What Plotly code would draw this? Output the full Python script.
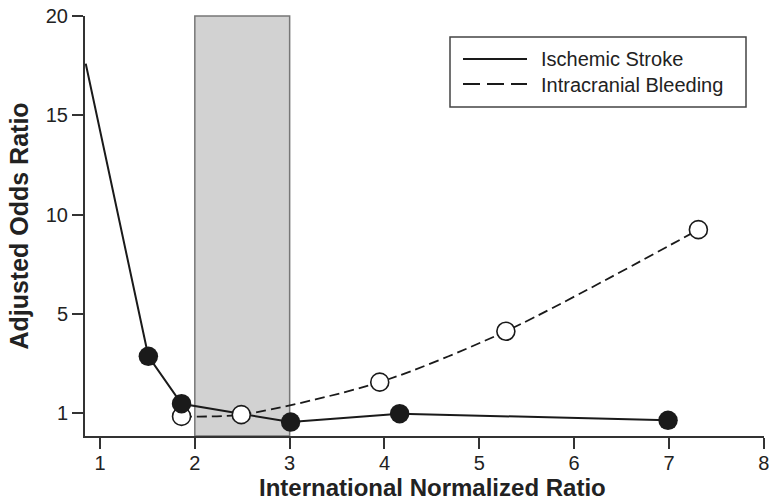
import plotly.graph_objects as go

# INR at which the adjusted odds ratios were estimated
ischemic_inr = [0.85, 1.51, 1.86, 3.01, 4.16, 6.99]
ischemic_or = [17.6, 3.29, 1.38, 0.64, 0.98, 0.71]

bleeding_inr = [1.86, 2.49, 3.95, 5.28, 7.31]
bleeding_or = [0.87, 0.94, 2.25, 4.30, 9.24]

# therapeutic INR window
target_range = [2.0, 3.0]

x_ticks = [1, 2, 3, 4, 5, 6, 7, 8]
y_ticks = [1, 5, 10, 15, 20]


def to_axis(v):
    """Odds-ratio scale: 1..5 stretched so that 1 sits at the axis origin."""
    return v if v >= 5 else (v - 1) * 1.25


FONT = "Liberation Sans, Arial, Helvetica, sans-serif"
INK = "#1a1a1a"
TEXT = "#222222"

# plot area in pixels
W, H = 769, 503
L, R, T, B = 85, 5, 16, 67


def px_x(p):
    return (p - L) / (W - L - R)


def px_y(p):
    return (H - B - p) / (H - T - B)


fig = go.Figure()

# dashed bleeding curve (drawn underneath)
fig.add_trace(go.Scatter(
    x=bleeding_inr, y=[to_axis(v) for v in bleeding_or],
    mode="lines", line=dict(color=INK, width=1.8, dash="10px,5px", shape="spline", smoothing=0.8),
    showlegend=False, hoverinfo="skip"))

# solid ischemic stroke line
fig.add_trace(go.Scatter(
    x=ischemic_inr, y=[to_axis(v) for v in ischemic_or],
    mode="lines", line=dict(color=INK, width=2),
    showlegend=False, hoverinfo="skip"))

# open markers for bleeding
fig.add_trace(go.Scatter(
    x=bleeding_inr, y=[to_axis(v) for v in bleeding_or],
    mode="markers",
    marker=dict(size=18, color="white", line=dict(color=INK, width=1.6)),
    showlegend=False))

# filled markers for ischemic stroke (first point is the curve start only)
fig.add_trace(go.Scatter(
    x=ischemic_inr[1:], y=[to_axis(v) for v in ischemic_or[1:]],
    mode="markers",
    marker=dict(size=19.5, color=INK, line=dict(width=0)),
    showlegend=False))

# shaded target range
fig.add_shape(type="rect", xref="x", yref="paper",
              x0=target_range[0], x1=target_range[1], y0=0, y1=1,
              fillcolor="#d2d2d2", line=dict(color="#777777", width=1.5), layer="below")

# legend box
fig.add_shape(type="rect", xref="paper", yref="paper",
              x0=px_x(450), x1=px_x(746), y0=px_y(107), y1=px_y(37),
              fillcolor="white", line=dict(color="#444444", width=1.5))
fig.add_shape(type="line", xref="paper", yref="paper",
              x0=px_x(463), x1=px_x(527), y0=px_y(59), y1=px_y(59),
              line=dict(color=INK, width=1.8))
fig.add_shape(type="line", xref="paper", yref="paper",
              x0=px_x(463), x1=px_x(527), y0=px_y(84), y1=px_y(84),
              line=dict(color=INK, width=1.8, dash="17px,7px"))
for label, yy in [("Ischemic Stroke", 59), ("Intracranial Bleeding", 85)]:
    fig.add_annotation(text=label, xref="paper", yref="paper",
                       x=px_x(539), y=px_y(yy), xanchor="left", yanchor="middle",
                       showarrow=False, font=dict(family=FONT, size=20, color=TEXT))

# x-axis title
fig.add_annotation(text="<b>International Normalized Ratio</b>", xref="paper", yref="paper",
                   x=px_x(432), y=px_y(502.5), xanchor="center", yanchor="bottom",
                   showarrow=False, borderpad=0,
                   font=dict(family=FONT, size=24, color=TEXT))

axis_common = dict(
    showline=True, linecolor="#333333", linewidth=2,
    ticks="outside", ticklen=11, tickwidth=1.5, tickcolor="#333333",
    showgrid=False, zeroline=False, ticklabeloverflow="allow",
    tickfont=dict(family=FONT, size=20, color=TEXT),
)

fig.update_xaxes(
    range=[0.842, 8.002], tickvals=x_ticks, ticktext=[str(t) for t in x_ticks],
    ticklabelstandoff=-3,
    **axis_common)
fig.update_yaxes(
    range=[-1.15, 20.0], tickvals=[to_axis(v) for v in y_ticks],
    ticktext=[str(t) for t in y_ticks],
    title=dict(text="<b>Adjusted Odds Ratio</b>", standoff=10,
               font=dict(family=FONT, size=25, color=TEXT)),
    **axis_common)

fig.update_layout(
    width=W, height=H,
    margin=dict(l=L, r=R, t=T, b=B, autoexpand=False),
    plot_bgcolor="white", paper_bgcolor="white",
    showlegend=False,
)

fig.write_html("out.html")
